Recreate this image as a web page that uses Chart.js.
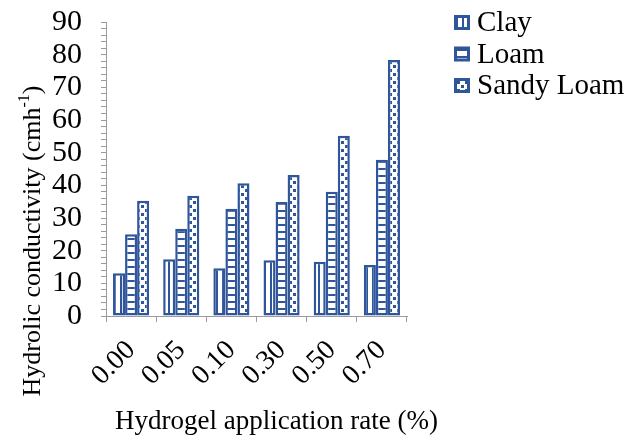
<!DOCTYPE html>
<html lang="en">
<head>
    <meta charset="UTF-8">
    <title>Hydraulic conductivity vs hydrogel rate</title>
    <script src="https://cdn.jsdelivr.net/npm/chart.js"></script>
    <style>
        html, body {
            margin: 0;
            padding: 0;
            background: #fff;
        }
        #wrap {
            width: 639px;
            height: 435px;
        }
    </style>
</head>
<body>
    <div id="wrap"><canvas id="kChart"></canvas></div>

    <script>
        // application rates (%) and measured conductivity per soil type
        const rates = ["0.00", "0.05", "0.10", "0.30", "0.50", "0.70"];
        const clay = [13.1, 17.4, 14.6, 17.1, 16.6, 15.6];
        const loam = [25.0, 26.7, 32.8, 34.9, 38.0, 47.8];
        const sandyLoam = [35.3, 36.8, 40.6, 43.2, 55.2, 78.4];

        const blue = "#2f559a";
        const axisGrey = "#9a9a9a";
        const serif = "'Liberation Serif', 'Times New Roman', serif";

        // small tiles for the hatch fills
        function makePattern(w, h, draw) {
            const c = document.createElement("canvas");
            c.width = w;
            c.height = h;
            const g = c.getContext("2d");
            g.fillStyle = "#fff";
            g.fillRect(0, 0, w, h);
            g.fillStyle = blue;
            draw(g);
            return g.createPattern(c, "repeat");
        }

        const vertLines = makePattern(6, 6, g => g.fillRect(0, 0, 2, 6));
        const horizLines = makePattern(7, 7, g => g.fillRect(0, 0, 7, 2));
        const dots = makePattern(8, 8, g => {
            g.fillRect(1, 1, 3, 3);
            g.fillRect(5, 5, 3, 3);
        });

        // axis titles (off-centre, with a superscript) and the legend
        const decorations = {
            id: "decorations",
            afterDraw(chart) {
                const { ctx, chartArea } = chart;
                ctx.save();
                ctx.fillStyle = "#000";

                // x title
                ctx.font = "27px " + serif;
                ctx.textAlign = "center";
                ctx.textBaseline = "alphabetic";
                ctx.fillText("Hydrogel application rate (%)",
                    (chartArea.left + chartArea.right) / 2 + 20, chartArea.bottom + 113);

                // y title, rotated, "cmh" with a raised "-1"
                const main = "Hydrolic conductivity (cmh";
                const sup = "-1";
                const tail = ")";
                ctx.font = "26px " + serif;
                const w1 = ctx.measureText(main).width;
                const w3 = ctx.measureText(tail).width;
                ctx.font = "16px " + serif;
                const w2 = ctx.measureText(sup).width;
                const total = w1 + w2 + w3;
                ctx.save();
                ctx.translate(33, (chartArea.top + chartArea.bottom) / 2 + 72);
                ctx.rotate(-Math.PI / 2);
                ctx.textAlign = "left";
                ctx.textBaseline = "middle";
                let x = -total / 2;
                ctx.font = "26px " + serif;
                ctx.fillText(main, x, 0);
                x += w1;
                ctx.font = "16px " + serif;
                ctx.fillText(sup, x, -8);
                x += w2;
                ctx.font = "26px " + serif;
                ctx.fillText(tail, x, 0);
                ctx.restore();

                // legend, one row per dataset
                ctx.font = "29px " + serif;
                ctx.textAlign = "left";
                ctx.textBaseline = "alphabetic";
                const lx = chartArea.right + 47;
                chart.data.datasets.forEach((ds, i) => {
                    const base = 31 + i * 31.5;
                    ctx.fillStyle = ds.backgroundColor;
                    ctx.fillRect(lx, base - 16, 16, 15);
                    ctx.strokeStyle = ds.borderColor;
                    ctx.lineWidth = 3;
                    ctx.strokeRect(lx + 1.5, base - 14.5, 13, 12);
                    ctx.fillStyle = "#000";
                    ctx.fillText(ds.label, lx + 23, base);
                });
                ctx.restore();
            }
        };

        const barStyle = {
            borderColor: blue,
            borderWidth: 2.5,
            borderSkipped: false,
            categoryPercentage: 0.72,
            barPercentage: 1.0
        };

        new Chart(document.getElementById("kChart"), {
            type: "bar",
            data: {
                labels: rates,
                datasets: [
                    { label: "Clay", data: clay, backgroundColor: vertLines, ...barStyle },
                    { label: "Loam", data: loam, backgroundColor: horizLines, ...barStyle },
                    { label: "Sandy Loam", data: sandyLoam, backgroundColor: dots, ...barStyle }
                ]
            },
            options: {
                responsive: true,
                maintainAspectRatio: false,
                animation: false,
                layout: {
                    padding: { left: 26, right: 232, top: 22, bottom: 0 }
                },
                plugins: {
                    tooltip: { enabled: false },
                    legend: { display: false }
                },
                scales: {
                    x: {
                        grid: {
                            offset: true,
                            drawOnChartArea: false,
                            color: axisGrey,
                            tickLength: 6
                        },
                        border: { color: axisGrey, width: 1 },
                        ticks: {
                            autoSkip: false,
                            color: "#000",
                            font: { family: serif, size: 28 },
                            minRotation: 45,
                            maxRotation: 45,
                            padding: 12
                        },
                        afterFit: s => {
                            s.height = 119;
                            s.paddingLeft = 0;
                            s.paddingRight = 0;
                        }
                    },
                    y: {
                        min: 0,
                        max: 90,
                        grid: {
                            drawOnChartArea: false,
                            color: axisGrey,
                            tickLength: 5
                        },
                        border: { color: axisGrey, width: 1 },
                        ticks: {
                            stepSize: 2,
                            autoSkip: false,
                            color: "#000",
                            font: { family: serif, size: 30 },
                            padding: 19,
                            callback: v => (v % 10 === 0 ? v : "")
                        },
                        afterFit: s => {
                            s.width = 80;
                            s.paddingTop = 0;
                            s.paddingBottom = 0;
                        }
                    }
                }
            },
            plugins: [decorations]
        });
    </script>
</body>
</html>
